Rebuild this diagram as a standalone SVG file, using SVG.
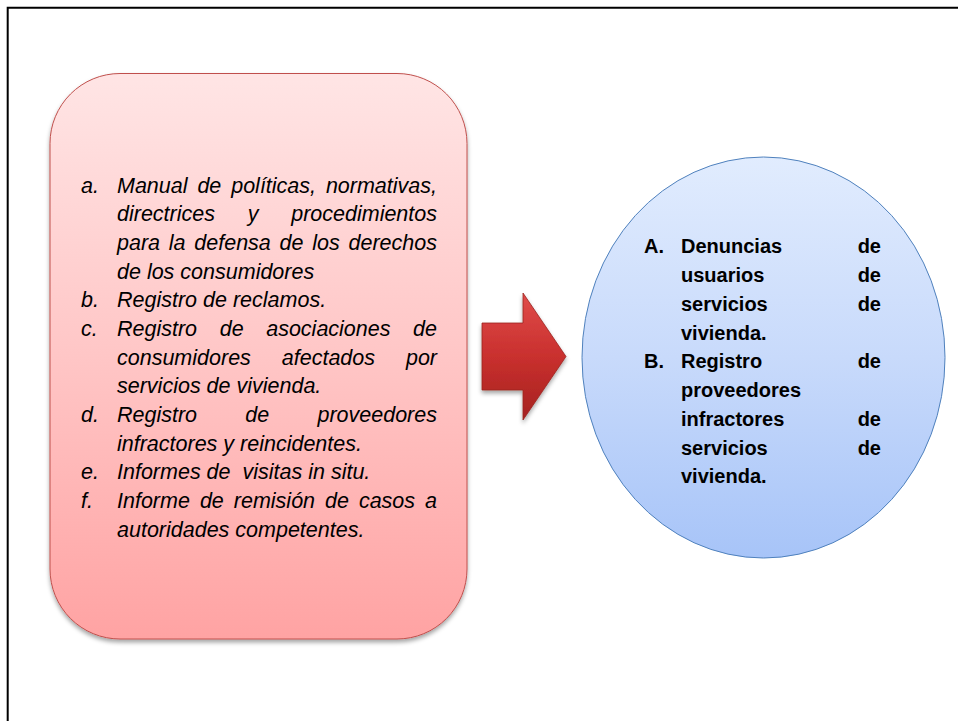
<svg xmlns="http://www.w3.org/2000/svg" width="958" height="721" viewBox="0 0 958 721">
  <style>
    .it { font-family: "Liberation Sans", Arial, sans-serif; font-style: italic; font-size: 21.5px; fill: #000; }
    .bd { font-family: "Liberation Sans", Arial, sans-serif; font-weight: bold; font-size: 20px; fill: #000; }
    .end { text-anchor: end; }
  </style>
  <defs>
    <linearGradient id="gPink" x1="0" y1="0" x2="0" y2="1">
      <stop offset="0" stop-color="#FFE5E5"/>
      <stop offset="0.5" stop-color="#FFC6C6"/>
      <stop offset="1" stop-color="#FFA3A3"/>
    </linearGradient>
    <linearGradient id="gBlue" x1="0" y1="0" x2="0" y2="1">
      <stop offset="0" stop-color="#E1ECFE"/>
      <stop offset="0.5" stop-color="#C8DAFB"/>
      <stop offset="1" stop-color="#A7C4F8"/>
    </linearGradient>
    <linearGradient id="gRed" x1="0" y1="0" x2="0" y2="1">
      <stop offset="0" stop-color="#E04C4A"/>
      <stop offset="0.5" stop-color="#C9302E"/>
      <stop offset="1" stop-color="#A52220"/>
    </linearGradient>
    <filter id="shadow" x="-10%" y="-10%" width="120%" height="120%">
      <feDropShadow dx="0" dy="3" stdDeviation="2" flood-color="#000" flood-opacity="0.35"/>
    </filter>
  </defs>

  <rect width="958" height="721" fill="#FFFFFF"/>
  <path d="M7.7 721 V7.7 H958" fill="none" stroke="#000" stroke-width="2"/>

  <g id="connectors">
    <polygon points="482,323 523,323 523,293 566,356.5 523,420 523,390 482,390" fill="url(#gRed)" stroke="#9B2320" stroke-width="0.8" filter="url(#shadow)"/>
  </g>

  <g id="node-sources">
    <rect x="50" y="73.5" width="417" height="565.5" rx="70" ry="70" fill="url(#gPink)" stroke="#C0504D" stroke-width="1" filter="url(#shadow)"/>
    <text class="it" x="81" y="192.7">a.</text>
    <text class="it" x="117" y="192.7">Manual</text>
    <text class="it" x="197.4" y="192.7">de</text>
    <text class="it" x="231.2" y="192.7">políticas,</text>
    <text class="it end" x="437" y="192.7">normativas,</text>

    <text class="it" x="117" y="221.4">directrices</text>
    <text class="it" x="247.7" y="221.4">y</text>
    <text class="it end" x="437" y="221.4">procedimientos</text>

    <text class="it" x="117" y="250">para</text>
    <text class="it" x="168.8" y="250">la</text>
    <text class="it" x="194.3" y="250">defensa</text>
    <text class="it" x="279.6" y="250">de</text>
    <text class="it" x="312.3" y="250">los</text>
    <text class="it end" x="437" y="250">derechos</text>

    <text class="it" x="117" y="278.7">de los consumidores</text>

    <text class="it" x="81" y="307.4">b.</text>
    <text class="it" x="117" y="307.4">Registro de reclamos.</text>

    <text class="it" x="81" y="336">c.</text>
    <text class="it" x="117" y="336">Registro</text>
    <text class="it" x="219.7" y="336">de</text>
    <text class="it" x="266.2" y="336">asociaciones</text>
    <text class="it end" x="437" y="336">de</text>

    <text class="it" x="117" y="364.7">consumidores</text>
    <text class="it" x="281.8" y="364.7">afectados</text>
    <text class="it end" x="437" y="364.7">por</text>

    <text class="it" x="117" y="393.4">servicios de vivienda.</text>

    <text class="it" x="81" y="422.1">d.</text>
    <text class="it" x="117" y="422.1">Registro</text>
    <text class="it" x="245.3" y="422.1">de</text>
    <text class="it end" x="437" y="422.1">proveedores</text>

    <text class="it" x="117" y="450.7">infractores y reincidentes.</text>

    <text class="it" x="81" y="479.4">e.</text>
    <text class="it" x="117" y="479.4" xml:space="preserve">Informes de  visitas in situ.</text>

    <text class="it" x="81" y="508.1">f.</text>
    <text class="it" x="117" y="508.1">Informe</text>
    <text class="it" x="199.9" y="508.1">de</text>
    <text class="it" x="233.8" y="508.1">remisión</text>
    <text class="it" x="325" y="508.1">de</text>
    <text class="it" x="358.9" y="508.1">casos</text>
    <text class="it end" x="437" y="508.1">a</text>

    <text class="it" x="117" y="536.7">autoridades competentes.</text>
  </g>

  <g id="node-results">
    <ellipse cx="763.5" cy="357.5" rx="181.5" ry="200.5" fill="url(#gBlue)" stroke="#4F81BD" stroke-width="1"/>
    <text class="bd" x="644" y="253.3">A.</text>
    <text class="bd" x="681" y="253.3">Denuncias</text>
    <text class="bd end" x="881" y="253.3">de</text>
    <text class="bd" x="681" y="282.1">usuarios</text>
    <text class="bd end" x="881" y="282.1">de</text>
    <text class="bd" x="681" y="310.8">servicios</text>
    <text class="bd end" x="881" y="310.8">de</text>
    <text class="bd" x="681" y="339.6">vivienda.</text>
    <text class="bd" x="644" y="368.3">B.</text>
    <text class="bd" x="681" y="368.3">Registro</text>
    <text class="bd end" x="881" y="368.3">de</text>
    <text class="bd" x="681" y="397.1">proveedores</text>
    <text class="bd" x="681" y="425.8">infractores</text>
    <text class="bd end" x="881" y="425.8">de</text>
    <text class="bd" x="681" y="454.6">servicios</text>
    <text class="bd end" x="881" y="454.6">de</text>
    <text class="bd" x="681" y="483.3">vivienda.</text>
  </g>
</svg>
